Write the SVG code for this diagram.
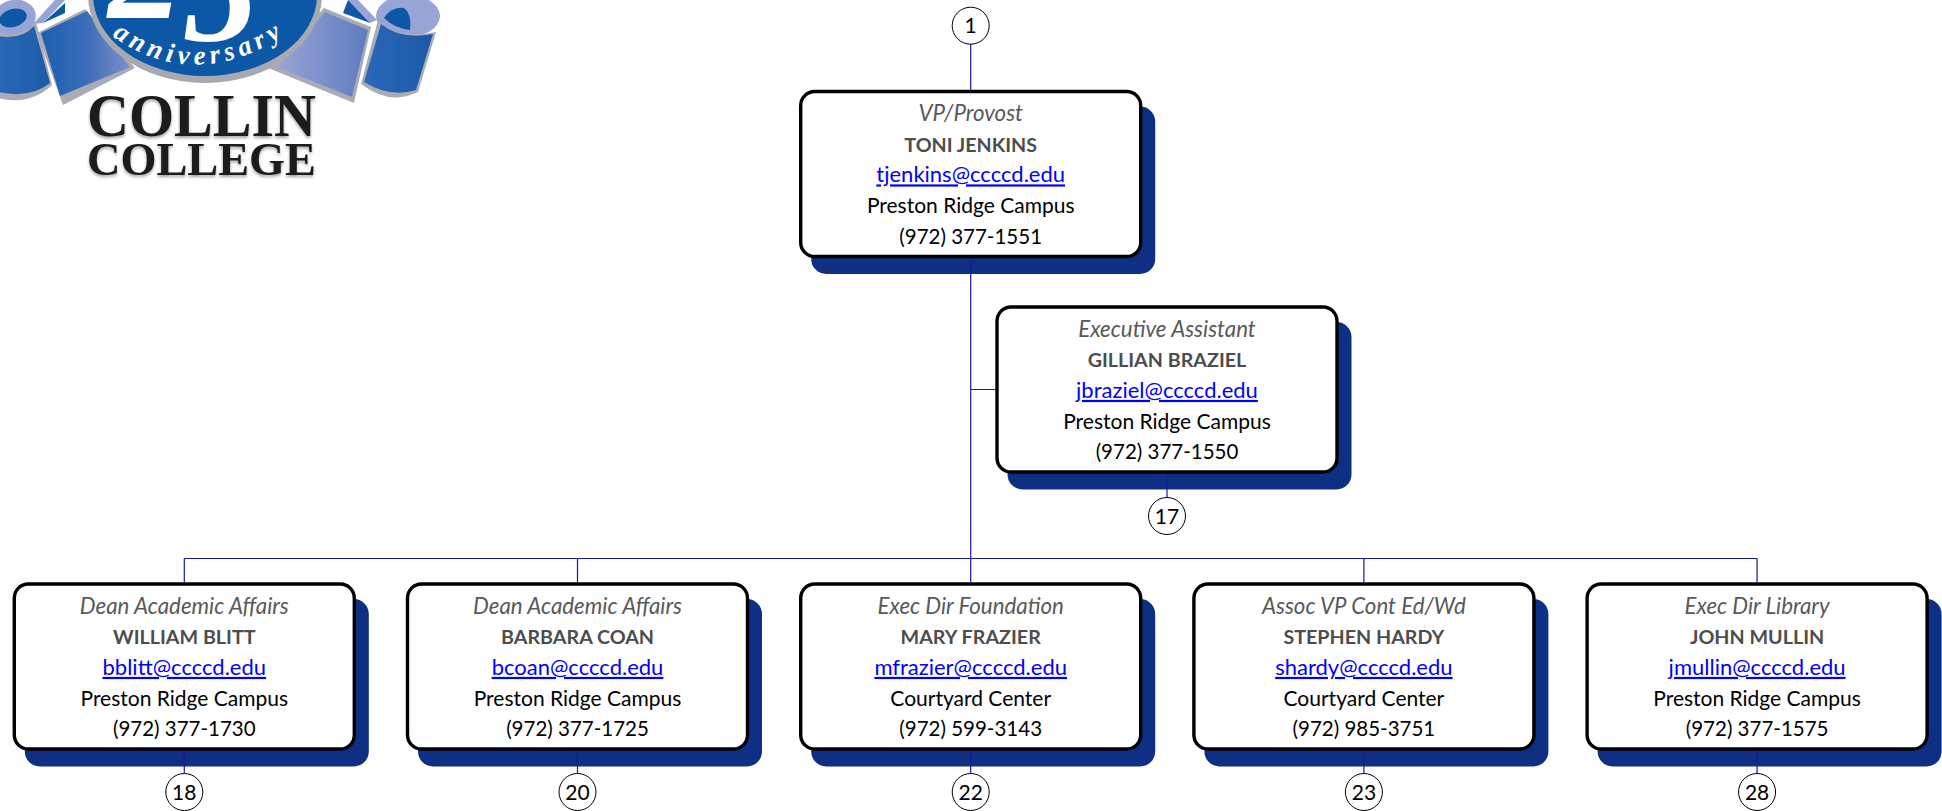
<svg xmlns="http://www.w3.org/2000/svg" width="1942" height="811" viewBox="0 0 1942 811">
<style>
text{font-family:"Lato","Liberation Sans",sans-serif;font-size:21px;text-anchor:middle;fill:#000}
.t{font-style:italic;font-size:22.3px;fill:#595959}
.n{font-weight:700;font-size:19.7px;fill:#4d4d4d}
.e{fill:#0000ff;font-size:22px;text-decoration:underline}
.p{font-size:20.500px}
.s{fill:#0e2f84}
.b{fill:#fff;stroke:#000;stroke-width:3.4}
.c{fill:#fff;stroke:#000;stroke-width:1}
.l{fill:none;stroke:#1a1a96;stroke-width:1.2}
.logo{font-family:"Liberation Serif",serif;font-weight:700;fill:#1a1a1a}
.rim{fill:#a9acb4}
.curl{fill:#98a4d6}
.deep{fill:#0e58a6}
</style>
<defs>
<linearGradient id="bandL" x1="0" x2="1" y1="0" y2="0"><stop offset="0" stop-color="#1c5fb2"/><stop offset="0.5" stop-color="#3a6cb8"/><stop offset="1" stop-color="#7d8fca"/></linearGradient>
<linearGradient id="bandR" x1="0" x2="1" y1="0" y2="0"><stop offset="0" stop-color="#98a4d6"/><stop offset="1" stop-color="#5f7cc0"/></linearGradient>
<linearGradient id="roll" x1="0" x2="1" y1="0" y2="0"><stop offset="0" stop-color="#2a68b8"/><stop offset="1" stop-color="#1c5aa8"/></linearGradient>
<filter id="soft" x="-10%" y="-20%" width="120%" height="150%"><feGaussianBlur stdDeviation="1.6"/></filter>
<filter id="tiny"><feGaussianBlur stdDeviation="0.5"/></filter>
<path id="arc" d="M112,36 Q198,96 292,30"/>
<g id="box"><rect class="s" x="10.500" y="15" width="344" height="167.500" rx="15"/><rect class="b" x="0" y="0" width="340" height="165" rx="14"/></g>
</defs>
<g id="logo">
<g filter="url(#tiny)">
<path class="curl" d="M33,24 L55,0 L65,0 L43,23 Z"/>
<path class="deep" d="M43,23 L65,3 L65,13 Z"/>
<ellipse class="curl" cx="14" cy="18" rx="22" ry="18" transform="rotate(-15 14 18)"/>
<ellipse class="deep" cx="13" cy="18" rx="14" ry="9" transform="rotate(-15 13 18)"/>
<path class="rim" d="M-2,33 Q22,38 36,22 L52,85 Q30,106 -2,98 Z"/>
<path d="M-2,36 Q22,40 34,26 L50,83 Q30,99 -2,92 Z" fill="url(#roll)"/>
<path class="rim" d="M37,33 L85,9 L135,68 L63,105 Z"/>
<path d="M41,33 L87,11 L130,67 L60,96 Z" fill="url(#bandL)"/>
<path class="curl" d="M348,0 L358,0 L377,20 L370,23 Z"/>
<path class="deep" d="M343,13 L348,0 L370,23 Z"/>
<path class="rim" d="M324,8 L371,27 L354,103 L268,68 Z"/>
<path d="M325,12 L368,30 L352,97 L277,67 Z" fill="url(#bandR)"/>
<ellipse class="curl" cx="408" cy="16" rx="32" ry="21"/>
<path class="deep" d="M384,18 Q392,6 404,8 Q412,14 410,30 Q394,28 384,18 Z"/>
<path class="rim" d="M378,20 Q395,40 436,32 L418,92 Q390,106 361,84 Z"/>
<path d="M381,24 Q400,40 433,34 L416,90 Q390,98 364,82 Z" fill="url(#roll)"/>
<ellipse cx="205" cy="-5" rx="117" ry="88" fill="#a6a9b0"/>
<ellipse cx="205" cy="-5" rx="112" ry="81" fill="#0b58a6"/>
</g>
<text class="logo" style="font-size:150px;font-style:italic;fill:#fff;text-anchor:start"><tspan x="108" y="18">2</tspan><tspan x="183" y="41">5</tspan></text>
<text style="font-family:'Liberation Serif',serif;font-style:italic;font-weight:700;font-size:27px;letter-spacing:5px;fill:#fff;text-anchor:start"><textPath href="#arc" startOffset="0">anniversary</textPath></text>
<text class="logo" x="201.500" y="136" style="font-size:62px;fill:#555;opacity:.55" filter="url(#soft)" textLength="229" lengthAdjust="spacingAndGlyphs" dy="2">COLLIN</text>
<text class="logo" x="201.500" y="175" style="font-size:47px;fill:#555;opacity:.55" filter="url(#soft)" textLength="229" lengthAdjust="spacingAndGlyphs" dy="2">COLLEGE</text>
<text class="logo" x="201.500" y="136" style="font-size:62px" textLength="229" lengthAdjust="spacingAndGlyphs" filter="url(#tiny)">COLLIN</text>
<text class="logo" x="201.500" y="175" style="font-size:47px" textLength="229" lengthAdjust="spacingAndGlyphs" filter="url(#tiny)">COLLEGE</text>
</g>
<g id="node-provost"><use href="#box" x="800.700" y="91.500"/>
<text class="t" x="970.700" y="121">VP/Provost</text><text class="n" x="970.700" y="151.700">TONI JENKINS</text><text class="e" x="970.700" y="182.400">tjenkins@ccccd.edu</text><text x="970.700" y="213.100">Preston Ridge Campus</text><text class="p" x="970.700" y="243.800">(972) 377-1551</text></g>
<g id="node-assistant"><use href="#box" x="997" y="307"/>
<text class="t" x="1167" y="336.500">Executive Assistant</text><text class="n" x="1167" y="367.200">GILLIAN BRAZIEL</text><text class="e" x="1167" y="397.900">jbraziel@ccccd.edu</text><text x="1167" y="428.600">Preston Ridge Campus</text><text class="p" x="1167" y="459.300">(972) 377-1550</text></g>
<g id="node-blitt"><use href="#box" x="14.300" y="584"/>
<text class="t" x="184.300" y="613.500">Dean Academic Affairs</text><text class="n" x="184.300" y="644.200">WILLIAM BLITT</text><text class="e" x="184.300" y="674.900">bblitt@ccccd.edu</text><text x="184.300" y="705.600">Preston Ridge Campus</text><text class="p" x="184.300" y="736.300">(972) 377-1730</text></g>
<g id="node-coan"><use href="#box" x="407.500" y="584"/>
<text class="t" x="577.500" y="613.500">Dean Academic Affairs</text><text class="n" x="577.500" y="644.200">BARBARA COAN</text><text class="e" x="577.500" y="674.900">bcoan@ccccd.edu</text><text x="577.500" y="705.600">Preston Ridge Campus</text><text class="p" x="577.500" y="736.300">(972) 377-1725</text></g>
<g id="node-frazier"><use href="#box" x="800.700" y="584"/>
<text class="t" x="970.700" y="613.500">Exec Dir Foundation</text><text class="n" x="970.700" y="644.200">MARY FRAZIER</text><text class="e" x="970.700" y="674.900">mfrazier@ccccd.edu</text><text x="970.700" y="705.600">Courtyard Center</text><text class="p" x="970.700" y="736.300">(972) 599-3143</text></g>
<g id="node-hardy"><use href="#box" x="1193.900" y="584"/>
<text class="t" x="1363.900" y="613.500">Assoc VP Cont Ed/Wd</text><text class="n" x="1363.900" y="644.200">STEPHEN HARDY</text><text class="e" x="1363.900" y="674.900">shardy@ccccd.edu</text><text x="1363.900" y="705.600">Courtyard Center</text><text class="p" x="1363.900" y="736.300">(972) 985-3751</text></g>
<g id="node-mullin"><use href="#box" x="1587.100" y="584"/>
<text class="t" x="1757.100" y="613.500">Exec Dir Library</text><text class="n" x="1757.100" y="644.200">JOHN MULLIN</text><text class="e" x="1757.100" y="674.900">jmullin@ccccd.edu</text><text x="1757.100" y="705.600">Preston Ridge Campus</text><text class="p" x="1757.100" y="736.300">(972) 377-1575</text></g>
<g id="connectors">
<path class="l" d="M970.700,44 V90 M970.700,258 V582 M970.700,389.500 H995 M184.300,558.500 H1757.100 M184.300,558.500 V582 M577.500,558.500 V582 M1363.900,558.500 V582 M1757.100,558.500 V582 M1167,474 V497 M184.300,751 V773 M577.500,751 V773 M970.700,751 V773 M1363.900,751 V773 M1757.100,751 V773"/>
</g>
<g id="ref-1"><circle class="c" cx="970.700" cy="25.700" r="18.500"/><text x="970.700" y="33">1</text></g>
<g id="ref-17"><circle class="c" cx="1167" cy="516" r="18.500"/><text x="1167" y="523.500">17</text></g>
<g id="ref-18"><circle class="c" cx="184.300" cy="792" r="18.500"/><text x="184.300" y="799.500">18</text></g>
<g id="ref-20"><circle class="c" cx="577.500" cy="792" r="18.500"/><text x="577.500" y="799.500">20</text></g>
<g id="ref-22"><circle class="c" cx="970.700" cy="792" r="18.500"/><text x="970.700" y="799.500">22</text></g>
<g id="ref-23"><circle class="c" cx="1363.900" cy="792" r="18.500"/><text x="1363.900" y="799.500">23</text></g>
<g id="ref-28"><circle class="c" cx="1757.100" cy="792" r="18.500"/><text x="1757.100" y="799.500">28</text></g>
</svg>
